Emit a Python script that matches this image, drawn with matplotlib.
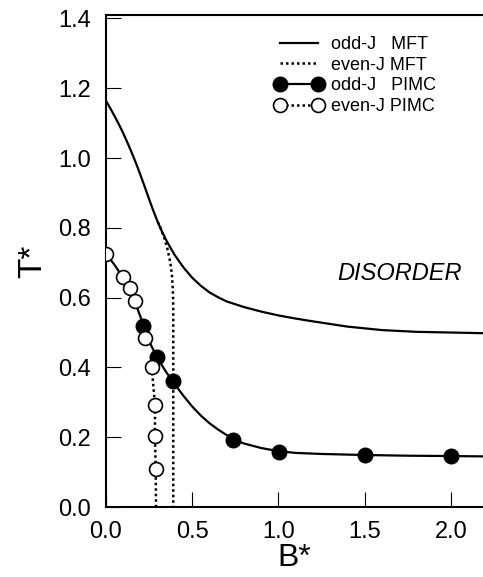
import matplotlib
matplotlib.use("Agg")
import matplotlib.pyplot as plt

plt.rcParams['font.family'] = ['Liberation Sans', 'DejaVu Sans']

mft_odd_b = [0.0, 0.025, 0.05, 0.075, 0.1, 0.125, 0.15, 0.175, 0.2, 0.225, 0.25, 0.275, 0.3, 0.325,
             0.35, 0.375, 0.4, 0.45, 0.5, 0.55, 0.6, 0.65, 0.7, 0.8, 0.9, 1.0, 1.1, 1.2, 1.4, 1.6,
             1.8, 2.0, 2.2]
mft_odd_t = [1.164, 1.1425, 1.120, 1.0965, 1.071, 1.0435, 1.0145, 0.984, 0.951, 0.917, 0.882, 0.8485,
             0.817, 0.789, 0.764, 0.742, 0.721, 0.686, 0.657, 0.634, 0.615, 0.601, 0.589, 0.573,
             0.560, 0.549, 0.540, 0.532, 0.517, 0.507, 0.502, 0.500, 0.498]

mft_even_b = [0.30, 0.32, 0.34, 0.355, 0.367, 0.376, 0.382, 0.386, 0.389, 0.39, 0.39]
mft_even_t = [0.817, 0.795, 0.768, 0.742, 0.715, 0.69, 0.665, 0.635, 0.60, 0.565, 0.0]

# odd-J PIMC points and guide line
pimc_odd_b = [0.217, 0.297, 0.386, 0.738, 1.005, 1.50, 2.0]
pimc_odd_t = [0.519, 0.429, 0.360, 0.193, 0.159, 0.150, 0.146]
fit_odd_b = [0.0, 0.05, 0.1, 0.15, 0.2, 0.25, 0.3, 0.35, 0.4, 0.45, 0.5, 0.55, 0.6, 0.65, 0.7,
             0.75, 0.8, 0.9, 1.0, 1.1, 1.25, 1.5, 1.75, 2.0, 2.2]
fit_odd_t = [0.726, 0.6935, 0.6565, 0.6105, 0.545, 0.475, 0.425, 0.386, 0.351, 0.318, 0.288, 0.262,
             0.240, 0.222, 0.206, 0.192, 0.182, 0.169, 0.160, 0.155, 0.152, 0.149, 0.147, 0.146, 0.145]

# even-J PIMC points and guide line
pimc_even_b = [0.0, 0.097, 0.139, 0.168, 0.226, 0.265, 0.284, 0.284, 0.288]
pimc_even_t = [0.726, 0.659, 0.627, 0.589, 0.483, 0.400, 0.293, 0.203, 0.109]
fit_even_b = [0.265, 0.284, 0.284, 0.288, 0.29]
fit_even_t = [0.400, 0.293, 0.203, 0.109, 0.0]

xticks = [0.0, 0.5, 1.0, 1.5, 2.0]
yticks = [0.0, 0.2, 0.4, 0.6, 0.8, 1.0, 1.2, 1.4]

fig = plt.figure(figsize=(4.83, 5.77), dpi=100)
ax = fig.add_axes([106 / 483, 1 - 507 / 577, 1 - 106 / 483, (507 - 15) / 577])

dot = (0, (1, 1.2))
ax.plot(fit_odd_b, fit_odd_t, color='k', lw=1.6, zorder=2)
ax.plot(fit_even_b, fit_even_t, color='k', lw=1.8, ls=dot, zorder=2)
ax.plot(mft_even_b, mft_even_t, color='k', lw=1.8, ls=dot, zorder=2)
ax.plot(mft_odd_b, mft_odd_t, color='k', lw=1.6, zorder=3)
ax.plot(pimc_odd_b, pimc_odd_t, 'o', color='k', ms=10.5, zorder=4)
ax.plot(pimc_even_b, pimc_even_t, 'o', mfc='white', mec='k', mew=1.2, ms=10, zorder=4)

# legend proxies
h1, = ax.plot([], [], color='k', lw=1.6)
h2, = ax.plot([], [], color='k', lw=1.8, ls=dot)
h3, = ax.plot([], [], color='k', lw=1.6, marker='o', ms=10.5)
h4, = ax.plot([], [], color='k', lw=1.8, ls=dot, marker='o', mfc='white', mec='k', mew=1.2, ms=10)
ax.legend([h1, h2, h3, h4],
          ['odd-J   MFT', 'even-J MFT', 'odd-J   PIMC', 'even-J PIMC'],
          loc='upper left', bbox_to_anchor=(275 / 483, 1 - 36 / 577),
          bbox_transform=fig.transFigure, frameon=False, fontsize=13,
          handlelength=2.7, handletextpad=0.4, labelspacing=0.2,
          borderpad=0, borderaxespad=0, numpoints=2)

ax.text(1.70, 0.67, 'DISORDER', style='italic', fontsize=17, ha='center', va='center')

ax.set_xlim(0, 2.186)
ax.set_ylim(0, 1.41)
ax.set_xticks(xticks)
ax.set_yticks(yticks)
ax.set_xticklabels([f'{v:.1f}' for v in xticks])
ax.set_yticklabels([f'{v:.1f}' for v in yticks])
ax.tick_params(direction='in', length=11, width=0.8, labelsize=17)
ax.tick_params(axis='x', pad=10)
ax.tick_params(axis='y', pad=11)
ax.spines['right'].set_visible(False)
for s in ['left', 'bottom', 'top']:
    ax.spines[s].set_linewidth(1.5)

ax.set_xlabel('B*', fontsize=23, labelpad=0)
ax.set_ylabel('T*', fontsize=24, labelpad=7)

fig.savefig('out.png', dpi=100)
